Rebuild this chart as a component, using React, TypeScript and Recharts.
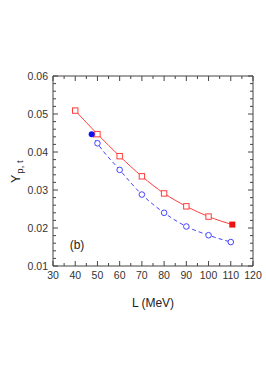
import { ComposedChart, Line, XAxis, YAxis, ReferenceDot } from 'recharts'

// red curve (open squares, filled square at the end)
const redL = [40, 50, 60, 70, 80, 90, 100, 110.7]
const redY = [0.0509, 0.0447, 0.0389, 0.0336, 0.0291, 0.0257, 0.023, 0.0209]
// blue dashed curve (filled circle at the start, open circles)
const blueL = [47.4, 50, 60, 70, 80, 90, 100, 110]
const blueY = [0.0447, 0.0423, 0.0353, 0.0288, 0.024, 0.0204, 0.0181, 0.0163]

const xMajor = [30, 40, 50, 60, 70, 80, 90, 100, 110, 120]
const yMajor = [0.01, 0.02, 0.03, 0.04, 0.05, 0.06]

const xTicks: number[] = []
xMajor.forEach((v, i) => {
    xTicks.push(v)
    if (i < xMajor.length - 1) xTicks.push(v + 5)
})
const yTicks: number[] = []
yMajor.forEach((v, i) => {
    yTicks.push(v)
    if (i < yMajor.length - 1) {
        for (let k = 1; k < 5; k++) yTicks.push(+(v + k * 0.002).toFixed(4))
    }
})

const redData = redL.map((L, i) => ({ L, Y: redY[i], filled: i === redL.length - 1 }))
const blueData = blueL.map((L, i) => ({ L, Y: blueY[i], filled: i === 0 }))

const RED = '#ff3c3c'
const BLUE = '#4444ff'
const AXIS = '#444'
const FONT = '"Liberation Sans", Arial, sans-serif'

const isMajorX = (v: number) => xMajor.includes(v)
const isMajorY = (v: number) => yMajor.some((m) => Math.abs(m - v) < 1e-6)

const makeTick = (side: 'bottom' | 'top' | 'left' | 'right') => (props: any) => {
    const { x, y, payload } = props
    const v = payload.value
    const major = side === 'bottom' || side === 'top' ? isMajorX(v) : isMajorY(v)
    const len = major ? 5 : 3
    let line
    if (side === 'bottom') line = <line x1={x} y1={y} x2={x} y2={y - len} stroke={AXIS} />
    else if (side === 'top') line = <line x1={x} y1={y} x2={x} y2={y + len} stroke={AXIS} />
    else if (side === 'left') line = <line x1={x} y1={y} x2={x + len} y2={y} stroke={AXIS} />
    else line = <line x1={x} y1={y} x2={x - len} y2={y} stroke={AXIS} />
    let label = null
    if (major && side === 'bottom') {
        label = (
            <text x={x} y={y + 13} textAnchor="middle" fontSize={10.5} fill="#333" fontFamily={FONT}>
                {v}
            </text>
        )
    } else if (major && side === 'left') {
        label = (
            <text x={x - 5} y={y + 4} textAnchor="end" fontSize={10.5} fill="#333" fontFamily={FONT}>
                {v.toFixed(2)}
            </text>
        )
    }
    return (
        <g>
            {line}
            {label}
        </g>
    )
}

const redDot = (props: any) => {
    const { cx, cy, index, payload } = props
    if (payload.filled) {
        return <rect key={`r${index}`} x={cx - 3} y={cy - 3} width={6} height={6} fill="#ee1111" />
    }
    return (
        <rect key={`r${index}`} x={cx - 2.7} y={cy - 2.7} width={5.4} height={5.4} fill="#fff" stroke={RED} strokeWidth={1} />
    )
}

const blueDot = (props: any) => {
    const { cx, cy, index, payload } = props
    if (payload.filled) {
        return <circle key={`b${index}`} cx={cx} cy={cy} r={3} fill="#1111ee" />
    }
    return <circle key={`b${index}`} cx={cx} cy={cy} r={2.8} fill="#fff" stroke={BLUE} strokeWidth={1} />
}

const yLabel = (props: any) => {
    const { viewBox } = props
    const cx = 19.5
    const cy = viewBox.y + viewBox.height / 2 + 12
    return (
        <text transform={`rotate(-90, ${cx}, ${cy})`} x={cx} y={cy} fontFamily={FONT} fill="#222" fontSize={12.5}>
            Y
            <tspan fontSize={9.5} dy={3} dx={1}>
                p, t
            </tspan>
        </text>
    )
}

const xLabel = (props: any) => {
    const { viewBox } = props
    return (
        <text x={viewBox.x + viewBox.width / 2} y={307} textAnchor="middle" fontFamily={FONT} fill="#222" fontSize={12}>
            L (MeV)
        </text>
    )
}

export default function App() {
    return (
        <div style={{ position: 'absolute', left: 0, top: 0, width: 266, height: 380, background: '#fff' }}>
            <ComposedChart width={266} height={380} margin={{ top: 66, right: 3, bottom: 84, left: 0 }}>
                <XAxis
                    xAxisId="b"
                    dataKey="L"
                    type="number"
                    domain={[30, 120]}
                    ticks={xTicks}
                    interval={0}
                    allowDataOverflow
                    height={30}
                    stroke={AXIS}
                    tickLine={false}
                    tickSize={0}
                    tickMargin={0}
                    tick={makeTick('bottom')}
                    label={{ content: xLabel }}
                />
                <XAxis
                    xAxisId="t"
                    orientation="top"
                    dataKey="L"
                    type="number"
                    domain={[30, 120]}
                    ticks={xTicks}
                    interval={0}
                    allowDataOverflow
                    height={10}
                    stroke={AXIS}
                    tickLine={false}
                    tickSize={0}
                    tickMargin={0}
                    tick={makeTick('top')}
                />
                <YAxis
                    yAxisId="l"
                    type="number"
                    domain={[0.01, 0.06]}
                    ticks={yTicks}
                    interval={0}
                    allowDataOverflow
                    width={53}
                    stroke={AXIS}
                    tickLine={false}
                    tickSize={0}
                    tickMargin={0}
                    tick={makeTick('left')}
                    label={{ content: yLabel }}
                />
                <YAxis
                    yAxisId="r"
                    orientation="right"
                    type="number"
                    domain={[0.01, 0.06]}
                    ticks={yTicks}
                    interval={0}
                    allowDataOverflow
                    width={10}
                    stroke={AXIS}
                    tickLine={false}
                    tickSize={0}
                    tickMargin={0}
                    tick={makeTick('right')}
                />
                <Line
                    xAxisId="b"
                    yAxisId="l"
                    data={redData}
                    dataKey="Y"
                    type="monotone"
                    stroke={RED}
                    strokeWidth={1}
                    dot={redDot}
                    isAnimationActive={false}
                />
                <Line
                    xAxisId="b"
                    yAxisId="l"
                    data={blueData}
                    dataKey="Y"
                    type="monotone"
                    stroke={BLUE}
                    strokeWidth={1}
                    strokeDasharray="4 3"
                    dot={blueDot}
                    isAnimationActive={false}
                />
                <ReferenceDot
                    xAxisId="b"
                    yAxisId="l"
                    x={40.8}
                    y={0.0155}
                    r={0}
                    fill="none"
                    stroke="none"
                    label={{ value: '(b)', position: 'center', fontSize: 12, fill: '#222', fontFamily: FONT }}
                />
            </ComposedChart>
        </div>
    )
}
